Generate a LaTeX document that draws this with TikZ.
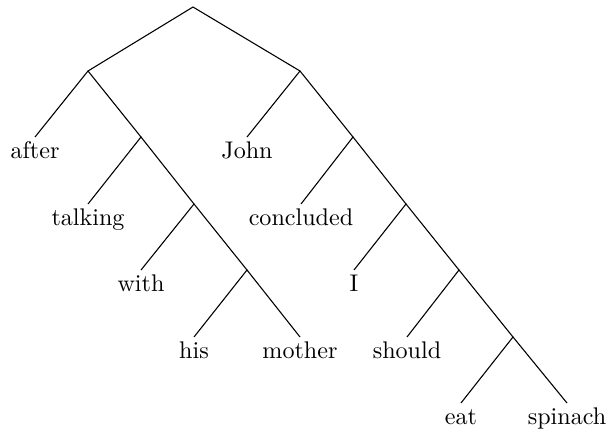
\documentclass[tikz,border=0pt]{standalone}
\begin{document}
\begin{tikzpicture}[x=0.415pt,y=-0.415pt,
  branch/.style={line width=0.45pt},
  leaf/.style={anchor=north,inner sep=1.9pt,text height=6.8pt,text depth=1.9pt,font=\fontsize{10}{12}\selectfont}]
\useasboundingbox (0,0) rectangle (609,432);
% internal points of the tree
\coordinate (s)   at (193,7);
\coordinate (l)   at (88,71);
\coordinate (r)   at (300,71);
\coordinate (lb)  at (141,137);
\coordinate (lc)  at (194,204);
\coordinate (ld)  at (247,270);
\coordinate (rb)  at (353,137);
\coordinate (rc)  at (406,204);
\coordinate (rd)  at (459,270);
\coordinate (re)  at (513,337);
% words
\node[leaf] (after)     at (35,137)  {after};
\node[leaf] (talking)   at (88,204)  {talking};
\node[leaf] (with)      at (141,270) {with};
\node[leaf] (his)       at (194,337) {his};
\node[leaf] (mother)    at (300,337) {mother};
\node[leaf] (john)      at (247,137) {John};
\node[leaf] (concluded) at (301,204) {concluded};
\node[leaf] (i)         at (354,270) {I};
\node[leaf] (should)    at (407,337) {should};
\node[leaf] (eat)       at (461,403) {eat};
\node[leaf] (spinach)   at (567,403) {spinach};
% branches
\draw[branch] (l) -- (s) -- (r);
\draw[branch] (after.north) -- (l) -- (lb);
\draw[branch] (talking.north) -- (lb) -- (lc);
\draw[branch] (with.north) -- (lc) -- (ld);
\draw[branch] (his.north) -- (ld) -- (mother.north);
\draw[branch] (john.north) -- (r) -- (rb);
\draw[branch] (concluded.north) -- (rb) -- (rc);
\draw[branch] (i.north) -- (rc) -- (rd);
\draw[branch] (should.north) -- (rd) -- (re);
\draw[branch] (eat.north) -- (re) -- (spinach.north);
\end{tikzpicture}
\end{document}
